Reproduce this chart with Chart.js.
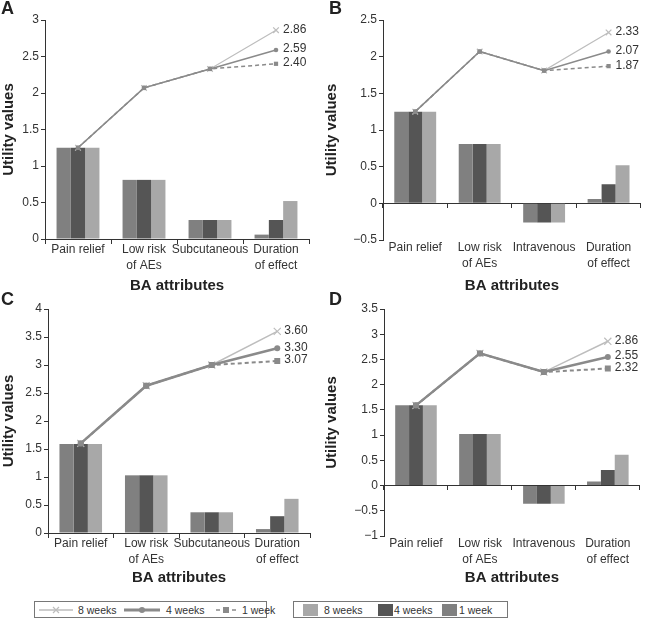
<!DOCTYPE html>
<html>
<head>
<meta charset="utf-8">
<script src="https://cdn.jsdelivr.net/npm/chart.js@4.4.0/dist/chart.umd.min.js"></script>
<style>
  body { margin: 0; background: #fff; font-family: "Liberation Sans", Arial, sans-serif; }
  #wrap { position: relative; width: 646px; height: 628px; }
  .panel { position: absolute; }
  .letter { position: absolute; font-weight: bold; font-size: 18px; color: #222; }
  .legend { position: absolute; top: 601px; height: 17px; border: 1px solid #777; box-sizing: border-box;
            font-size: 10.5px; color: #333; }
  .legend span { position: absolute; top: 1px; line-height: 14px; white-space: nowrap; }
  .sw { position: absolute; top: 2px; width: 15px; height: 12px; }
</style>
</head>
<body>
<div id="wrap">
  <canvas id="chartA" class="panel" width="323" height="295" style="left:0;top:0"></canvas>
  <canvas id="chartB" class="panel" width="323" height="295" style="left:323px;top:0"></canvas>
  <canvas id="chartC" class="panel" width="323" height="295" style="left:0;top:295px"></canvas>
  <canvas id="chartD" class="panel" width="323" height="295" style="left:323px;top:295px"></canvas>
  <div class="letter" style="left:1px;top:-2px">A</div>
  <div class="letter" style="left:329px;top:-2px">B</div>
  <div class="letter" style="left:1px;top:289px">C</div>
  <div class="letter" style="left:329px;top:289px">D</div>

  <div class="legend" style="left:34px;width:233px">
    <svg style="position:absolute;left:4px;top:2px" width="36" height="12">
      <line x1="0" y1="6" x2="34" y2="6" stroke="#bdbdbd" stroke-width="1.5"/>
      <path d="M14 3 L20 9 M20 3 L14 9" stroke="#bdbdbd" stroke-width="1.2"/>
    </svg>
    <span style="left:43px">8 weeks</span>
    <svg style="position:absolute;left:89px;top:2px" width="38" height="12">
      <line x1="0" y1="6" x2="36" y2="6" stroke="#8a8a8a" stroke-width="3"/>
      <circle cx="18" cy="6" r="3" fill="#8a8a8a"/>
    </svg>
    <span style="left:131px">4 weeks</span>
    <svg style="position:absolute;left:181px;top:2px" width="22" height="12">
      <line x1="0" y1="6" x2="4" y2="6" stroke="#8a8a8a" stroke-width="1.5"/>
      <rect x="7" y="3" width="6" height="6" fill="#8a8a8a"/>
      <line x1="16" y1="6" x2="20" y2="6" stroke="#8a8a8a" stroke-width="1.5"/>
    </svg>
    <span style="left:207px">1 week</span>
  </div>

  <div class="legend" style="left:293px;width:215px">
    <div class="sw" style="left:9px;background:#a8a8a8"></div>
    <span style="left:30px">8 weeks</span>
    <div class="sw" style="left:84px;background:#555555"></div>
    <span style="left:100px">4 weeks</span>
    <div class="sw" style="left:148px;background:#808080"></div>
    <span style="left:165px">1 week</span>
  </div>
</div>

<script>
// categories
const catsSC = ['Pain relief', ['Low risk', 'of AEs'], 'Subcutaneous', ['Duration', 'of effect']];
const catsIV = ['Pain relief', ['Low risk', 'of AEs'], 'Intravenous', ['Duration', 'of effect']];

// panel A - bars (1 week, 4 weeks, 8 weeks) and cumulative lines
const barsA1 = [1.25, 0.81, 0.26, 0.06];
const barsA4 = [1.25, 0.81, 0.26, 0.26];
const barsA8 = [1.25, 0.81, 0.26, 0.52];
const lineA8 = [1.25, 2.07, 2.33, 2.86];
const lineA4 = [1.25, 2.07, 2.33, 2.59];
const lineA1 = [1.25, 2.07, 2.33, 2.40];

// panel B
const barsB1 = [1.25, 0.81, -0.26, 0.06];
const barsB4 = [1.25, 0.81, -0.26, 0.26];
const barsB8 = [1.25, 0.81, -0.26, 0.52];
const lineB8 = [1.25, 2.07, 1.81, 2.33];
const lineB4 = [1.25, 2.07, 1.81, 2.07];
const lineB1 = [1.25, 2.07, 1.81, 1.87];

// panel C
const barsC1 = [1.59, 1.03, 0.37, 0.07];
const barsC4 = [1.59, 1.03, 0.37, 0.30];
const barsC8 = [1.59, 1.03, 0.37, 0.61];
const lineC8 = [1.60, 2.63, 3.00, 3.60];
const lineC4 = [1.60, 2.63, 3.00, 3.30];
const lineC1 = [1.60, 2.63, 3.00, 3.07];

// panel D
const barsD1 = [1.59, 1.02, -0.36, 0.08];
const barsD4 = [1.59, 1.02, -0.36, 0.31];
const barsD8 = [1.59, 1.02, -0.36, 0.61];
const lineD8 = [1.59, 2.62, 2.25, 2.86];
const lineD4 = [1.59, 2.62, 2.25, 2.55];
const lineD1 = [1.59, 2.62, 2.25, 2.32];

const FONT = '"Liberation Sans", Arial, sans-serif';
const AXIS = '#333333';

// writes the value next to the last point of each line
const endLabels = {
  id: 'endLabels',
  afterDatasetsDraw(chart) {
    const ctx = chart.ctx;
    chart.data.datasets.forEach((ds, i) => {
      if (ds.type !== 'line') return;
      const meta = chart.getDatasetMeta(i);
      const pt = meta.data[meta.data.length - 1];
      ctx.save();
      ctx.font = '12px ' + FONT;
      ctx.fillStyle = '#333';
      ctx.textBaseline = 'middle';
      ctx.fillText(ds.data[ds.data.length - 1].toFixed(2), pt.x + 7, pt.y - 1);
      ctx.restore();
    });
  }
};

function makePanel(id, cats, bars, lines, ymin, ymax, lay) {
  const thick = lay.thick;
  new Chart(document.getElementById(id), {
    type: 'bar',
    data: {
      labels: cats,
      datasets: [
        { label: '1 week', data: bars[0], backgroundColor: '#808080', order: 10, xAxisID: 'x',
          categoryPercentage: 0.65, barPercentage: 1 },
        { label: '4 weeks', data: bars[1], backgroundColor: '#555555', order: 10, xAxisID: 'x',
          categoryPercentage: 0.65, barPercentage: 1 },
        { label: '8 weeks', data: bars[2], backgroundColor: '#a8a8a8', order: 10, xAxisID: 'x',
          categoryPercentage: 0.65, barPercentage: 1 },
        { type: 'line', label: '8 weeks', data: lines[0], xAxisID: 'x', order: 3,
          borderColor: '#bdbdbd', borderWidth: thick ? 1.5 : 1.2, pointStyle: 'crossRot',
          pointRadius: thick ? 5 : 4, pointBorderColor: '#bdbdbd', pointBorderWidth: 1.2 },
        { type: 'line', label: '1 week', data: lines[2], xAxisID: 'x', order: 2,
          borderColor: '#8a8a8a', borderWidth: thick ? 2 : 1.5, borderDash: [4, 3], pointStyle: 'rect',
          pointRadius: thick ? 4.2 : 3, backgroundColor: '#8a8a8a', pointBorderWidth: 0 },
        { type: 'line', label: '4 weeks', data: lines[1], xAxisID: 'x', order: 1,
          borderColor: '#8a8a8a', borderWidth: thick ? 2.5 : 1.5, pointStyle: 'circle',
          pointRadius: thick ? 3 : 2.3, backgroundColor: '#8a8a8a', pointBorderWidth: 0 }
      ]
    },
    options: {
      responsive: false,
      animation: false,
      devicePixelRatio: 1,
      layout: { padding: { left: 0, top: lay.top, right: lay.right, bottom: 0 } },
      plugins: { legend: { display: false }, tooltip: { enabled: false } },
      scales: {
        x: {
          type: 'category',
          position: { y: 0 },
          offset: true,
          ticks: { display: false },
          grid: { offset: true, drawOnChartArea: false, drawTicks: true, tickLength: 4, color: AXIS },
          border: { display: true, color: AXIS, width: 1 }
        },
        x2: {
          type: 'category',
          labels: cats,
          position: 'bottom',
          offset: true,
          grid: { display: false, drawTicks: false },
          border: { display: false },
          ticks: { padding: lay.labelPad, color: '#333', font: { family: FONT, size: 12, lineHeight: 1.3 },
                   maxRotation: 0, autoSkip: false },
          title: { display: true, text: 'BA attributes', color: '#222',
                   font: { family: FONT, size: 15, weight: 'bold', lineHeight: 1.2 },
                   padding: { top: 0, bottom: lay.titleBottom } },
          afterFit: s => { s.height = lay.x2h; }
        },
        y: {
          min: ymin,
          max: ymax,
          ticks: { stepSize: 0.5, padding: 2, color: '#333', font: { family: FONT, size: 12 },
                   callback: v => String(v).replace('-', '\u2212') },
          grid: { drawOnChartArea: false, drawTicks: true, tickLength: 4, color: AXIS },
          border: { display: true, color: AXIS, width: 1 },
          title: { display: true, text: 'Utility values', color: '#222',
                   font: { family: FONT, size: 15, weight: 'bold', lineHeight: 1.2 },
                   padding: { top: 0, bottom: 0 } },
          afterFit: s => { s.width = lay.yw; }
        }
      }
    },
    plugins: [endLabels]
  });
}

makePanel('chartA', catsSC, [barsA1, barsA4, barsA8], [lineA8, lineA4, lineA1], 0, 3,
  { top: 20, right: 14, yw: 45, x2h: 56, labelPad: 3, titleBottom: 0, thick: false });
makePanel('chartB', catsIV, [barsB1, barsB4, barsB8], [lineB8, lineB4, lineB1], -0.5, 2.5,
  { top: 20, right: 1, yw: 60, x2h: 55, labelPad: 0, titleBottom: 0, thick: false });
makePanel('chartC', catsSC, [barsC1, barsC4, barsC8], [lineC8, lineC4, lineC1], 0, 4,
  { top: 14, right: 13, yw: 48, x2h: 57, labelPad: 3, titleBottom: 3, thick: true });
makePanel('chartD', catsIV, [barsD1, barsD4, barsD8], [lineD8, lineD4, lineD1], -1, 3.5,
  { top: 14, right: 1, yw: 61, x2h: 54, labelPad: 0, titleBottom: 3, thick: true });
</script>
</body>
</html>
